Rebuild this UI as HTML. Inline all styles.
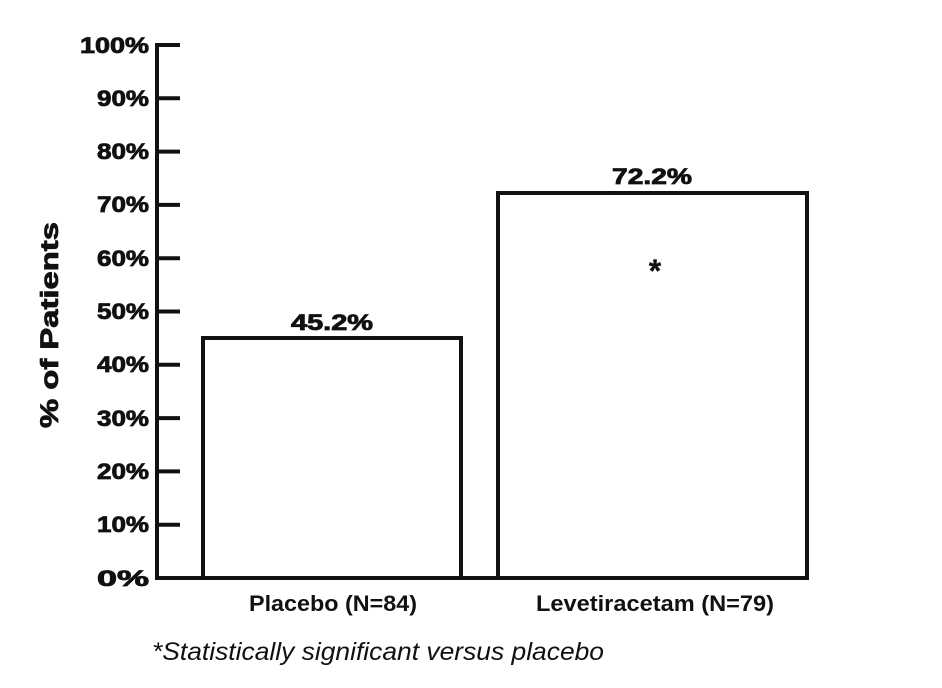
<!DOCTYPE html>
<html><head><style>body{margin:0;background:#fff}</style></head><body>
<svg width="942" height="683" xmlns="http://www.w3.org/2000/svg" font-family="'Liberation Sans', Arial, sans-serif">
<g stroke="#111" stroke-width="4" fill="none">
<line x1="157" y1="43" x2="157" y2="580"/>
<line x1="155" y1="578" x2="808" y2="578"/>
<line x1="157" y1="45" x2="180" y2="45"/>
<line x1="157" y1="98.3" x2="180" y2="98.3"/>
<line x1="157" y1="151.6" x2="180" y2="151.6"/>
<line x1="157" y1="204.9" x2="180" y2="204.9"/>
<line x1="157" y1="258.2" x2="180" y2="258.2"/>
<line x1="157" y1="311.5" x2="180" y2="311.5"/>
<line x1="157" y1="364.8" x2="180" y2="364.8"/>
<line x1="157" y1="418.1" x2="180" y2="418.1"/>
<line x1="157" y1="471.4" x2="180" y2="471.4"/>
<line x1="157" y1="524.7" x2="180" y2="524.7"/>
<rect x="203" y="338" width="258" height="240"/>
<rect x="498" y="193" width="309" height="385"/>
</g>
<g font-size="22" font-weight="bold" fill="#111" stroke="#111" stroke-width="0.8" text-anchor="end">
<text x="149" y="53" textLength="69" lengthAdjust="spacingAndGlyphs">100%</text>
<text x="149" y="106" textLength="52" lengthAdjust="spacingAndGlyphs">90%</text>
<text x="149" y="159" textLength="52" lengthAdjust="spacingAndGlyphs">80%</text>
<text x="149" y="212" textLength="52" lengthAdjust="spacingAndGlyphs">70%</text>
<text x="149" y="266" textLength="52" lengthAdjust="spacingAndGlyphs">60%</text>
<text x="149" y="319" textLength="52" lengthAdjust="spacingAndGlyphs">50%</text>
<text x="149" y="372" textLength="52" lengthAdjust="spacingAndGlyphs">40%</text>
<text x="149" y="426" textLength="52" lengthAdjust="spacingAndGlyphs">30%</text>
<text x="149" y="479" textLength="52" lengthAdjust="spacingAndGlyphs">20%</text>
<text x="149" y="532" textLength="52" lengthAdjust="spacingAndGlyphs">10%</text>
<text x="149" y="586" textLength="52" lengthAdjust="spacingAndGlyphs">0%</text>
</g>
<text transform="translate(58,325) rotate(-90)" text-anchor="middle" font-size="25" font-weight="bold" fill="#111" stroke="#111" stroke-width="0.8" textLength="206" lengthAdjust="spacingAndGlyphs">% of  Patients</text>
<g font-size="22" font-weight="bold" fill="#111" stroke="#111" stroke-width="0.8" text-anchor="middle">
<text x="332" y="330" textLength="82" lengthAdjust="spacingAndGlyphs">45.2%</text>
<text x="652" y="184" textLength="80" lengthAdjust="spacingAndGlyphs">72.2%</text>
<text x="655" y="282" font-size="32" stroke-width="0.3">*</text>
</g>
<g font-size="22" fill="#111" text-anchor="middle" font-weight="bold">
<text x="333" y="611" textLength="168" lengthAdjust="spacingAndGlyphs">Placebo (N=84)</text>
<text x="655" y="611" textLength="238" lengthAdjust="spacingAndGlyphs">Levetiracetam (N=79)</text>
</g>
<text x="152" y="660" font-size="25" font-style="italic" fill="#111" textLength="452" lengthAdjust="spacingAndGlyphs">*Statistically significant versus placebo</text>
</svg>
</body></html>
